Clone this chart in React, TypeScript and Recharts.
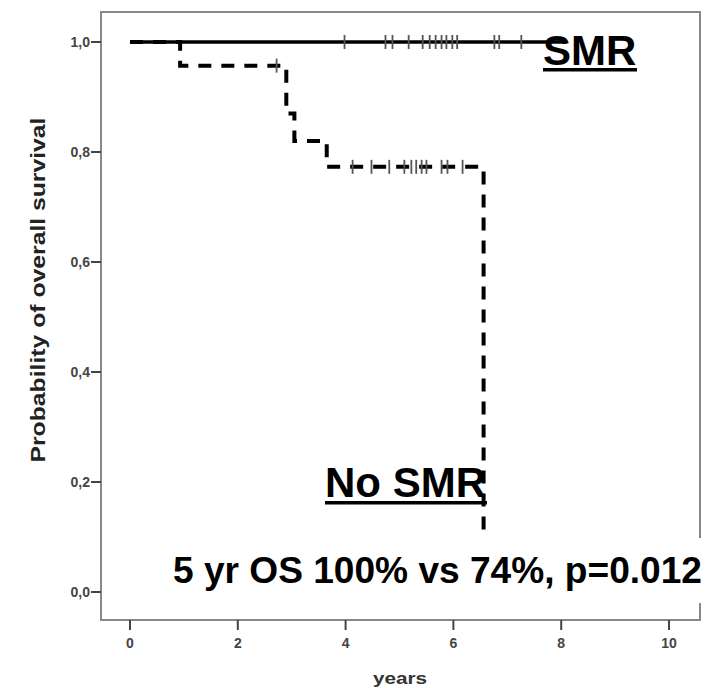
import { ComposedChart, Line, Scatter, XAxis, YAxis, ReferenceArea } from "recharts";

// axis ticks
const yearTicks = [0, 2, 4, 6, 8, 10];
const probTicks = [0, 0.2, 0.4, 0.6, 0.8, 1.0];

// Kaplan-Meier steps
const smrTime = [0, 8.1];
const smrSurv = [1, 1];
const noSmrTime = [0, 0.93, 2.9, 3.05, 3.65, 6.56];
const noSmrSurv = [1, 0.957, 0.87, 0.82, 0.773, 0];

// censored observations (+ marks)
const smrCensorTime = [3.98, 4.74, 4.87, 5.17, 5.43, 5.56, 5.67, 5.78, 5.87, 5.98, 6.07, 6.76, 6.85, 7.26];
const noSmrCensorTime = [2.72, 4.13, 4.48, 4.81, 5.09, 5.22, 5.31, 5.41, 5.5, 5.78, 5.89, 6.17];
const noSmrCensorSurv = [0.957, 0.773, 0.773, 0.773, 0.773, 0.773, 0.773, 0.773, 0.773, 0.773, 0.773, 0.773];

const smrLine = smrTime.map((t, i) => ({ t, s: smrSurv[i] }));
const noSmrLine = noSmrTime.map((t, i) => ({ t, s: noSmrSurv[i] }));
const smrCensor = smrCensorTime.map(t => ({ t, s: 1 }));
const noSmrCensor = noSmrCensorTime.map((t, i) => ({ t, s: noSmrCensorSurv[i] }));

const FONT = "'Liberation Sans', Arial, sans-serif";
const X_DOMAIN: [number, number] = [-0.538, 10.575];
const Y_DOMAIN: [number, number] = [-0.0509, 1.0545];

const censorMark = (props: any) => (
  <line
    x1={props.cx}
    x2={props.cx}
    y1={props.cy - 7}
    y2={props.cy + 7}
    stroke="#555"
    strokeWidth={1.8}
  />
);

export default function App() {
  return (
    <div style={{ position: "relative", width: 712, height: 688, background: "#fff" }}>
      <style>{"body{margin:0}"}</style>
      <ComposedChart width={712} height={688} margin={{ top: 12, right: 12, bottom: 0, left: 0 }}>
        <XAxis
          dataKey="t"
          type="number"
          domain={X_DOMAIN}
          allowDataOverflow
          ticks={yearTicks}
          tickSize={10}
          tickMargin={8}
          axisLine={{ stroke: "#888", strokeWidth: 2 }}
          tickLine={{ stroke: "#444", strokeWidth: 2 }}
          tick={{ fill: "#444", fontSize: 14, fontWeight: "bold", fontFamily: FONT }}
          height={68}
        />
        <YAxis
          dataKey="s"
          type="number"
          domain={Y_DOMAIN}
          allowDataOverflow
          ticks={probTicks}
          tickFormatter={(v: number) => v.toFixed(1).replace(".", ",")}
          tickSize={10}
          tickMargin={1}
          axisLine={{ stroke: "#888", strokeWidth: 2 }}
          tickLine={{ stroke: "#444", strokeWidth: 2 }}
          tick={{ fill: "#444", fontSize: 14, fontWeight: "bold", fontFamily: FONT }}
          width={101}
        />
        <ReferenceArea
          x1={X_DOMAIN[0]}
          x2={X_DOMAIN[1]}
          y1={Y_DOMAIN[0]}
          y2={Y_DOMAIN[1]}
          fill="none"
          stroke="#888"
          strokeWidth={2}
          ifOverflow="visible"
        />
        <Line
          data={noSmrLine}
          dataKey="s"
          type="stepAfter"
          stroke="#000"
          strokeWidth={4}
          strokeDasharray="13 10"
          dot={false}
          isAnimationActive={false}
        />
        <Line
          data={smrLine}
          dataKey="s"
          type="stepAfter"
          stroke="#000"
          strokeWidth={3.5}
          dot={false}
          isAnimationActive={false}
        />
        <Scatter data={noSmrCensor} dataKey="s" shape={censorMark} isAnimationActive={false} />
        <Scatter data={smrCensor} dataKey="s" shape={censorMark} isAnimationActive={false} />
      </ComposedChart>

      <svg
        width={712}
        height={688}
        style={{ position: "absolute", left: 0, top: 0, pointerEvents: "none" }}
      >
        <text
          x={45}
          y={290}
          transform="rotate(-90 45 290)"
          textAnchor="middle"
          fontFamily={FONT}
          fontWeight="bold"
          fontSize={21}
          fill="#222"
          textLength={345}
          lengthAdjust="spacingAndGlyphs"
        >
          Probability of overall survival
        </text>
        <text
          x={400}
          y={684}
          textAnchor="middle"
          fontFamily={FONT}
          fontWeight="bold"
          fontSize={17}
          fill="#333"
          textLength={54}
          lengthAdjust="spacingAndGlyphs"
        >
          years
        </text>

        <text x={543} y={65} fontFamily={FONT} fontWeight="bold" fontSize={42} fill="#000">
          SMR
        </text>
        <rect x={543} y={68} width={94} height={3.5} fill="#000" />

        <text x={325} y={497} fontFamily={FONT} fontWeight="bold" fontSize={42} fill="#000">
          No SMR
        </text>
        <rect x={325} y={501} width={162} height={3.5} fill="#000" />

        <rect x={160} y={538} width={552} height={65} fill="#fff" />
        <text
          x={173}
          y={583}
          fontFamily={FONT}
          fontWeight="bold"
          fontSize={37}
          fill="#000"
          textLength={529}
          lengthAdjust="spacingAndGlyphs"
        >
          5 yr OS 100% vs 74%, p=0.012
        </text>
      </svg>
    </div>
  );
}
